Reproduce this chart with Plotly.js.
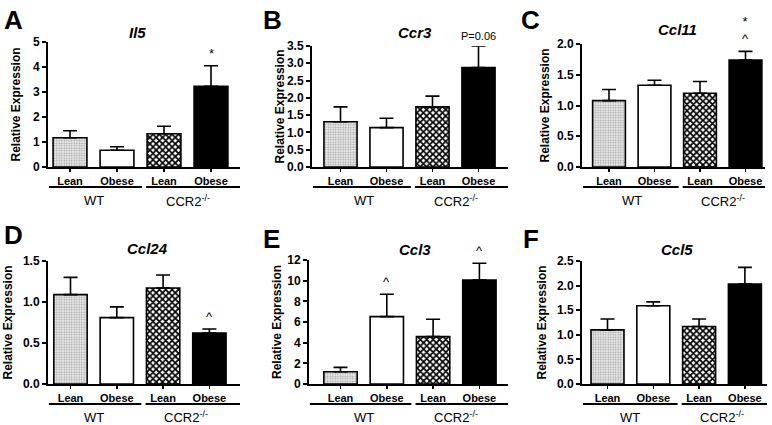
<!DOCTYPE html>
<html>
<head>
<meta charset="utf-8">
<script src="https://cdn.plot.ly/plotly-3.0.1.min.js"></script>
<style>html,body{margin:0;padding:0;background:#fff;}#chart{width:772px;height:425px;}</style>
</head>
<body>
<div id="chart"></div>
<script>
// ---- data ----
const categories = ['Lean', 'Obese', 'Lean', 'Obese'];
const groupLabels = ['WT', 'CCR2<sup>-/-</sup>'];
const panelLetters = ['A', 'B', 'C', 'D', 'E', 'F'];
const genes = ['Il5', 'Ccr3', 'Ccl11', 'Ccl24', 'Ccl3', 'Ccl5'];

const il5Mean  = [1.17, 0.67, 1.33, 3.23];
const il5Err   = [0.28, 0.14, 0.30, 0.82];
const ccr3Mean = [1.31, 1.14, 1.74, 2.88];
const ccr3Err  = [0.43, 0.27, 0.31, 0.62];
const ccl11Mean = [1.08, 1.33, 1.20, 1.74];
const ccl11Err  = [0.18, 0.08, 0.19, 0.14];
const ccl24Mean = [1.09, 0.81, 1.17, 0.62];
const ccl24Err  = [0.21, 0.13, 0.16, 0.05];
const ccl3Mean = [1.19, 6.52, 4.58, 10.06];
const ccl3Err  = [0.42, 2.16, 1.68, 1.62];
const ccl5Mean = [1.10, 1.59, 1.17, 2.03];
const ccl5Err  = [0.22, 0.08, 0.15, 0.34];

const yMax = [5, 3.5, 2.0, 1.5, 12, 2.5];
const yTicks = [
  [0, 1, 2, 3, 4, 5],
  [0, 0.5, 1, 1.5, 2, 2.5, 3, 3.5],
  [0, 0.5, 1, 1.5, 2],
  [0, 0.5, 1, 1.5],
  [0, 2, 4, 6, 8, 10, 12],
  [0, 0.5, 1, 1.5, 2, 2.5]
];
const yTickFormat = ['d', '.1f', '.1f', '.1f', 'd', '.1f'];
// significance marks: [panel index, bar index, text]
const sigMarks = [
  [0, 3, '*'],
  [1, 3, 'P=0.06'],
  [2, 3, '*<br>^'],
  [3, 3, '^'],
  [4, 1, '^'],
  [4, 3, '^']
];

const means = [il5Mean, ccr3Mean, ccl11Mean, ccl24Mean, ccl3Mean, ccl5Mean];
const errs = [il5Err, ccr3Err, ccl11Err, ccl24Err, ccl3Err, ccl5Err];

// ---- styles per bar ----
const barStyles = [
  {color: '#e2e2e2', pattern: {shape: '.', fgcolor: '#9c9c9c', bgcolor: '#ececec', size: 2.5, solidity: 0.35}},
  {color: '#ffffff', pattern: {shape: ''}},
  {color: '#ffffff', pattern: {shape: 'x', fgcolor: '#000000', bgcolor: '#ffffff', size: 4.5, solidity: 0.62}},
  {color: '#000000', pattern: {shape: ''}}
];

// ---- geometry (pixels) ----
const W = 772, H = 425;
const geom = [
  {left: 48,  c1: 70,    sp: 47,   right: 240, y0: 167, ytop: 42,  titleY: 33,  titleX: 137, lineY: 187, grpY: 201, letterX: 2,   letterY: 3,   yTitleX: 16},
  {left: 312, c1: 340.5, sp: 46,   right: 508, y0: 167, ytop: 46,  titleY: 32,  titleX: 415, lineY: 187, grpY: 201, letterX: 261, letterY: 3,   yTitleX: 279},
  {left: 582, c1: 609,   sp: 45.5, right: 765, y0: 167, ytop: 44,  titleY: 30,  titleX: 677, lineY: 187, grpY: 201, letterX: 519, letterY: 3,   yTitleX: 544},
  {left: 48,  c1: 70.5,  sp: 46.3, right: 240, y0: 384, ytop: 261, titleY: 248, titleX: 147, lineY: 404, grpY: 417, letterX: 2,   letterY: 218, yTitleX: 7},
  {left: 309, c1: 340.5, sp: 46.3, right: 508, y0: 384, ytop: 260, titleY: 249, titleX: 415, lineY: 404, grpY: 417, letterX: 261, letterY: 222, yTitleX: 277},
  {left: 582, c1: 607.5, sp: 45.8, right: 767, y0: 384, ytop: 261, titleY: 249, titleX: 677, lineY: 404, grpY: 417, letterX: 521, letterY: 222, yTitleX: 541}
];

const FONT = 'Liberation Sans, Arial, Helvetica, sans-serif';
const px2x = p => p / W;
const px2y = p => 1 - p / H;

const traces = [];
const layout = {
  width: W, height: H,
  margin: {l: 0, r: 0, t: 0, b: 0},
  paper_bgcolor: '#fff', plot_bgcolor: 'rgba(0,0,0,0)',
  showlegend: false,
  barmode: 'overlay',
  font: {family: FONT, color: '#000'},
  annotations: [],
  shapes: []
};

for (let i = 0; i < 6; i++) {
  const g = geom[i];
  const n = i + 1;
  const xa = 'x' + (n === 1 ? '' : n);
  const ya = 'y' + (n === 1 ? '' : n);
  const xr0 = (g.left - g.c1) / g.sp;
  const xr1 = (g.right - g.c1) / g.sp;

  for (let j = 0; j < 4; j++) {
    const st = barStyles[j];
    const pat = Object.assign({fillmode: 'replace'}, st.pattern);
    traces.push({
      type: 'bar',
      x: [j],
      y: [means[i][j]],
      xaxis: xa, yaxis: ya,
      width: 0.72,
      opacity: 1,
      marker: {color: st.color, line: {color: '#000', width: 1.6}, pattern: pat},
      error_y: {
        type: 'data', symmetric: false,
        array: [errs[i][j]], arrayminus: [0],
        color: '#000', thickness: 1.6, width: 7
      },
      hoverinfo: 'skip'
    });
  }

  layout['xaxis' + (n === 1 ? '' : n)] = {
    domain: [px2x(g.left), px2x(g.right)],
    range: [xr0, xr1],
    anchor: ya,
    tickmode: 'array', tickvals: [0, 1, 2, 3], ticktext: categories,
    showline: true, linecolor: '#000', linewidth: 2,
    ticks: 'outside', ticklen: 3, tickwidth: 1.5, tickcolor: '#000',
    tickfont: {family: FONT, size: 11, weight: 700, color: '#000'},
    showgrid: false, zeroline: false, fixedrange: true
  };
  layout['yaxis' + (n === 1 ? '' : n)] = {
    domain: [px2y(g.y0), px2y(g.ytop)],
    range: [0, yMax[i]],
    anchor: xa,
    tickmode: 'array', tickvals: yTicks[i], tickformat: yTickFormat[i],
    showline: true, linecolor: '#000', linewidth: 2,
    ticks: 'outside', ticklen: 4, tickwidth: 2, tickcolor: '#000',
    tickfont: {family: FONT, size: 12, weight: 700, color: '#000'},
    showgrid: false, zeroline: false, fixedrange: true
  };

  // panel letter
  layout.annotations.push({
    text: panelLetters[i], xref: 'paper', yref: 'paper',
    x: px2x(g.letterX), y: px2y(g.letterY), xanchor: 'left', yanchor: 'top',
    showarrow: false, font: {family: FONT, size: 26, weight: 700, color: '#000'}
  });
  // gene title
  layout.annotations.push({
    text: '<i>' + genes[i] + '</i>', xref: 'paper', yref: 'paper',
    x: px2x(g.titleX), y: px2y(g.titleY), xanchor: 'center', yanchor: 'middle',
    showarrow: false, font: {family: FONT, size: 15, weight: 700, color: '#000'}
  });
  // y title
  layout.annotations.push({
    text: 'Relative Expression', xref: 'paper', yref: 'paper',
    x: px2x(g.yTitleX), y: px2y((g.y0 + g.ytop) / 2), xanchor: 'center', yanchor: 'middle',
    textangle: -90, showarrow: false,
    font: {family: FONT, size: 12, weight: 700, color: '#000'}
  });
  // group lines and labels
  const lineSpans = [[xr0 + 0.02, 1.53], [1.62, xr1]];
  for (let k = 0; k < 2; k++) {
    layout.shapes.push({
      type: 'line', xref: xa, yref: 'paper',
      x0: lineSpans[k][0], x1: lineSpans[k][1],
      y0: px2y(g.lineY), y1: px2y(g.lineY),
      line: {color: '#000', width: 2}
    });
    layout.annotations.push({
      text: groupLabels[k], xref: xa, yref: 'paper',
      x: 0.5 + 2 * k, y: px2y(g.grpY), xanchor: 'center', yanchor: 'middle',
      showarrow: false, font: {family: FONT, size: 13, color: '#000'}
    });
  }
}

sigMarks.forEach(([p, b, txt]) => {
  const n = p + 1;
  const small = txt.indexOf('P=') === 0;
  layout.annotations.push({
    text: txt, xref: 'x' + (n === 1 ? '' : n), yref: 'y' + (n === 1 ? '' : n),
    x: b, y: means[p][b] + errs[p][b], xanchor: 'center', yanchor: 'bottom',
    yshift: small ? 2 : 3, showarrow: false,
    font: {family: FONT, size: small ? 11 : 13, color: '#000'}
  });
});

Plotly.newPlot('chart', traces, layout, {displayModeBar: false, staticPlot: true});
</script>
</body>
</html>
